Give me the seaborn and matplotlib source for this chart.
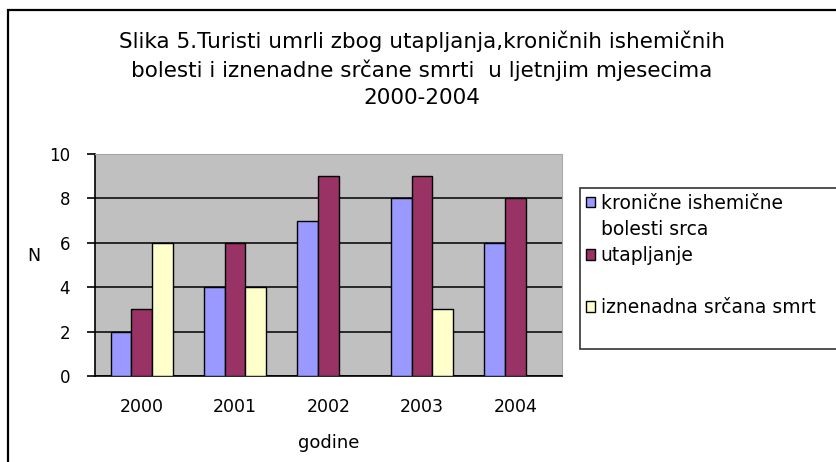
import matplotlib
matplotlib.use("Agg")
import matplotlib.pyplot as plt
import matplotlib.patches as mpatches
import numpy as np
import pandas as pd
import seaborn as sns

godine = ["2000", "2001", "2002", "2003", "2004"]
serije = ["kronične ishemične bolesti srca", "utapljanje", "iznenadna srčana smrt"]
kronicne = [2, 4, 7, 8, 6]
utapljanje = [3, 6, 9, 9, 8]
iznenadna = [6, 4, np.nan, 3, np.nan]
boje = ["#9999FF", "#993366", "#FFFFCC"]

df = pd.DataFrame({
    "godina": godine * 3,
    "serija": [s for s in serije for _ in godine],
    "N": kronicne + utapljanje + iznenadna,
})

sns.set_style("white")
plt.rcParams["font.family"] = ["DejaVu Sans"]
plt.rcParams["text.color"] = "black"
plt.rcParams["axes.labelcolor"] = "black"
plt.rcParams["xtick.color"] = "black"
plt.rcParams["ytick.color"] = "black"

fig = plt.figure(figsize=(8.36, 4.62), dpi=100)
ax = fig.add_axes([95 / 836, 1 - 376 / 462, (562 - 95) / 836, (376 - 154) / 462])
ax.set_facecolor("#C0C0C0")

sns.barplot(data=df, x="godina", y="N", hue="serija", hue_order=serije,
            palette=boje, saturation=1, edgecolor="black", linewidth=1, width=0.667,
            errorbar=None, legend=False, ax=ax, zorder=3)

ax.set_ylim(0, 10)
ax.set_xlim(-0.5, len(godine) - 0.5)
ax.set_yticks(range(0, 11, 2))
ax.yaxis.grid(True, color="black", linewidth=1.1, zorder=0)
ax.set_axisbelow(True)
for side in ["top", "right"]:
    ax.spines[side].set_color("#A8A8A8")
    ax.spines[side].set_linewidth(0.8)
for side in ["left", "bottom"]:
    ax.spines[side].set_color("black")
    ax.spines[side].set_linewidth(1.2)

ax.set_xticks(range(len(godine)))
ax.set_xticklabels(godine)
ax.set_xticks(np.arange(-0.5, len(godine), 1), minor=True)
ax.tick_params(axis="x", which="major", length=0, pad=16, labelsize=12.5)
ax.tick_params(axis="x", which="minor", length=5, width=1.2, direction="out", color="black")
ax.tick_params(axis="y", length=6, width=1.2, direction="out", color="black", pad=12, labelsize=12)
ax.tick_params(axis="both", bottom=True, left=True)

ax.set_xlabel("godine", fontsize=13, labelpad=13)
ax.set_ylabel("N", fontsize=12.5, rotation=0, labelpad=0)
ax.yaxis.set_label_coords(-0.13, 0.5)

fig.text(0.505, 1 - 31 / 462,
         "Slika 5.Turisti umrli zbog utapljanja,kroničnih ishemičnih\n"
         "bolesti i iznenadne srčane smrti  u ljetnjim mjesecima\n"
         "2000-2004",
         ha="center", va="top", fontsize=15.5, linespacing=1.42)

# legend
prazno = mpatches.Patch(facecolor="none", edgecolor="none")
ruke = [
    mpatches.Patch(facecolor=boje[0], edgecolor="black", linewidth=1),
    prazno,
    mpatches.Patch(facecolor=boje[1], edgecolor="black", linewidth=1),
    prazno,
    mpatches.Patch(facecolor=boje[2], edgecolor="black", linewidth=1),
    prazno,
]
oznake = ["kronične ishemične", "bolesti srca", "utapljanje", " ", "iznenadna srčana smrt", " "]
leg = fig.legend(ruke, oznake, loc="upper left", mode="expand",
                 bbox_to_anchor=(580 / 836, 1 - 188 / 462 - 0.01, 0.33, 0.01),
                 bbox_transform=fig.transFigure,
                 fontsize=13.5, frameon=True, fancybox=False, shadow=False,
                 handlelength=0.5, handleheight=0.5, handletextpad=0.3,
                 labelspacing=0.38, borderpad=0.3, borderaxespad=0)
leg.get_frame().set_edgecolor("black")
leg.get_frame().set_linewidth(1.2)

# outer chart border
fig.patches.append(mpatches.Rectangle((8 / 836, -0.1), 1.2, 1.1 - 10 / 462,
                                      transform=fig.transFigure, fill=False,
                                      edgecolor="black", linewidth=1.6))

fig.savefig("out.png", dpi=100, facecolor="white")
